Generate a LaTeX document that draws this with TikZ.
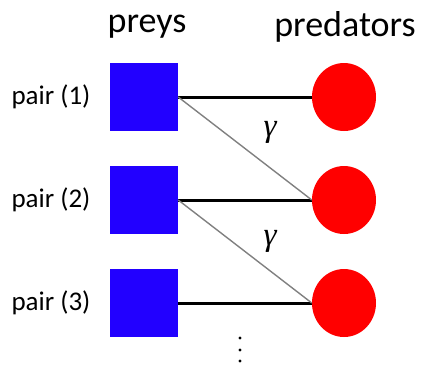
\documentclass[tikz,border=0pt]{standalone}
\usepackage{fontspec}
\setmainfont{Carlito}
\newfontfamily\gfont{Liberation Serif}
\usetikzlibrary{shapes.geometric}
\definecolor{preyblue}{RGB}{34,0,255}
\definecolor{predred}{RGB}{255,0,0}
\begin{document}
\begin{tikzpicture}[x=1pt,y=-1pt,
  prey/.style={fill=preyblue,draw=none,minimum width=68pt,minimum height=68pt,inner sep=0pt},
  pred/.style={ellipse,fill=predred,draw=none,minimum width=64pt,minimum height=68pt,inner sep=0pt},
  pairlbl/.style={font=\fontsize{27}{30}\selectfont,inner sep=0pt},
  header/.style={font=\fontsize{36}{40}\selectfont,inner sep=0pt},
  strong/.style={line width=3pt,black},
  cross/.style={line width=1.4pt,gray},
  glbl/.style={font=\gfont\itshape\fontsize{33}{36}\selectfont,inner sep=0pt}]
\useasboundingbox (0,0) rectangle (422,364);
\node[header] (hprey) at (147,27) {preys};
\node[header] (hpred) at (345,27) {predators};
\foreach \i/\y in {1/97,2/200,3/303}{
  \node[prey] (s\i) at (144,\y) {};
  \node[pred] (c\i) at (344,\y) {};
  \node[pairlbl] (p\i) at (51,\y) {pair (\i)};
  \draw[strong] (s\i.east) -- (c\i.west);
}
\draw[cross] (s1.east) -- (c2.west);
\draw[cross] (s2.east) -- (c3.west);
\node[glbl] (g1) at (270,132) {γ};
\node[glbl] (g2) at (270,241) {γ};
\foreach \k/\y in {1/338,2/350,3/361}{
  \fill (240,\y) circle (1.6pt) coordinate (d\k);
}
\end{tikzpicture}
\end{document}
